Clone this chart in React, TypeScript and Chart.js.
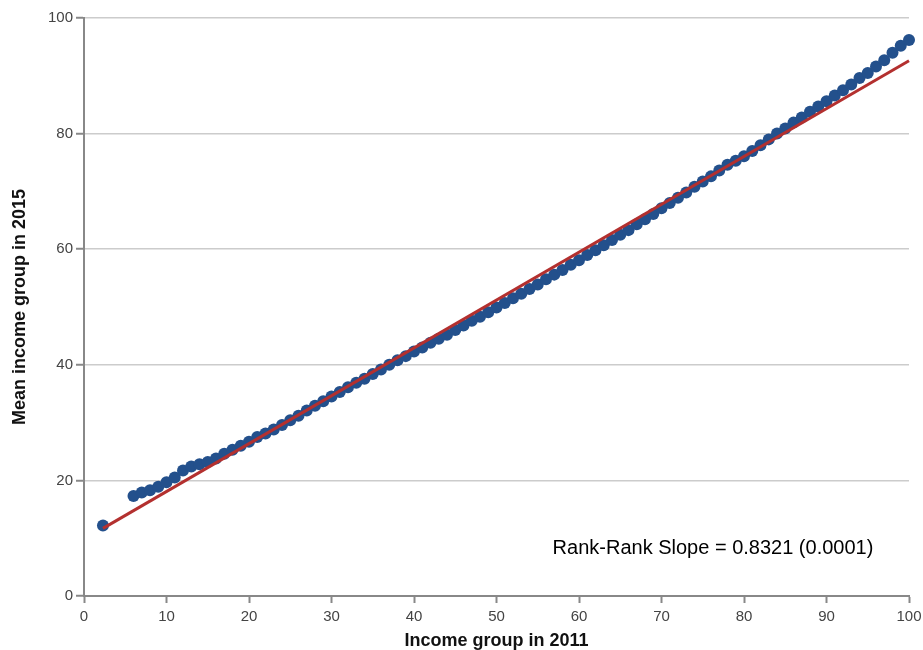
import React, { useEffect, useRef } from "react";
import { Chart, registerables } from "chart.js";

Chart.register(...registerables);

// Income group (percentile rank) in 2011
const incomeGroup2011 = [
  2.3, 6, 7, 8, 9, 10, 11, 12, 13, 14, 15, 16, 17, 18, 19, 20, 21, 22, 23, 24, 25,
  26, 27, 28, 29, 30, 31, 32, 33, 34, 35, 36, 37, 38, 39, 40, 41, 42, 43, 44, 45,
  46, 47, 48, 49, 50, 51, 52, 53, 54, 55, 56, 57, 58, 59, 60, 61, 62, 63, 64, 65,
  66, 67, 68, 69, 70, 71, 72, 73, 74, 75, 76, 77, 78, 79, 80, 81, 82, 83, 84, 85,
  86, 87, 88, 89, 90, 91, 92, 93, 94, 95, 96, 97, 98, 99, 100,
];

// Mean income group in 2015
const meanIncomeGroup2015 = [
  12.2, 17.3, 17.9, 18.3, 18.9, 19.7, 20.5, 21.7, 22.4, 22.8, 23.2, 23.8, 24.6, 25.3, 26.0, 26.7, 27.5, 28.1, 28.8, 29.6, 30.4,
  31.2, 32.1, 32.9, 33.7, 34.5, 35.3, 36.1, 36.9, 37.6, 38.4, 39.2, 40.0, 40.8, 41.5, 42.3, 43.0, 43.8, 44.5, 45.2, 46.0,
  46.8, 47.6, 48.3, 49.1, 49.9, 50.7, 51.5, 52.3, 53.1, 53.9, 54.8, 55.6, 56.4, 57.3, 58.1, 59.0, 59.8, 60.7, 61.6, 62.5,
  63.3, 64.3, 65.2, 66.1, 67.1, 68.0, 68.9, 69.8, 70.8, 71.7, 72.6, 73.6, 74.6, 75.3, 76.1, 77.0, 78.0, 79.0, 80.0, 80.9,
  81.9, 82.8, 83.8, 84.7, 85.6, 86.6, 87.5, 88.5, 89.6, 90.5, 91.6, 92.7, 94.0, 95.2, 96.2,
];

// Fitted rank-rank regression line endpoints
const fitX = [2.3, 100];
const fitY = [11.7, 92.6];

const slopeLabel = "Rank-Rank Slope = 0.8321 (0.0001)";
const slopeLabelAt = { x: 56.8, y: 8.3 };

const xTitle = "Income group in 2011";
const yTitle = "Mean income group in 2015";
const xTickStep = 10;
const yTickStep = 20;

const annotationPlugin = {
  id: "slopeAnnotation",
  afterDatasetsDraw(chart: any) {
    const { ctx, scales } = chart;
    const px = scales.x.getPixelForValue(slopeLabelAt.x);
    const py = scales.y.getPixelForValue(slopeLabelAt.y);
    ctx.save();
    ctx.font = "20px 'Liberation Sans', Arial, sans-serif";
    ctx.fillStyle = "#000";
    ctx.textAlign = "left";
    ctx.textBaseline = "middle";
    ctx.fillText(slopeLabel, px, py);
    ctx.restore();
  },
};

export default function App() {
  const canvasRef = useRef<HTMLCanvasElement | null>(null);

  useEffect(() => {
    if (!canvasRef.current) return;
    const points = incomeGroup2011.map((x, i) => ({ x, y: meanIncomeGroup2015[i] }));
    const fit = fitX.map((x, i) => ({ x, y: fitY[i] }));
    const tickFont = { family: "'Liberation Sans', Arial, sans-serif", size: 15 };
    const titleFont = { family: "'Liberation Sans', Arial, sans-serif", size: 18, weight: "bold" as const, lineHeight: 1 };
    const chart = new Chart(canvasRef.current, {
      type: "scatter",
      data: {
        datasets: [
          {
            label: "Fit",
            data: fit,
            showLine: true,
            borderColor: "#b3302f",
            borderWidth: 3,
            pointRadius: 0,
            pointHoverRadius: 0,
            fill: false,
            clip: false,
            order: 0,
          } as any,
          {
            label: "Mean income group",
            data: points,
            backgroundColor: "#23508c",
            borderColor: "#23508c",
            borderWidth: 0,
            pointRadius: 6,
            pointHoverRadius: 6,
            clip: false,
            order: 1,
          } as any,
        ],
      },
      options: {
        responsive: false,
        animation: false,
        layout: { padding: { top: 18, right: 14, left: 0, bottom: 0 } },
        plugins: {
          legend: { display: false },
          tooltip: { enabled: false },
        },
        events: [],
        scales: {
          x: {
            type: "linear",
            min: 0,
            max: 100,
            ticks: { stepSize: xTickStep, font: tickFont, color: "#444", padding: 5 },
            grid: { drawOnChartArea: false, drawTicks: true, tickLength: 7, tickColor: "#888", tickWidth: 2 },
            border: { color: "#888", width: 2 },
            title: { display: true, text: xTitle, font: titleFont, color: "#111", padding: { top: 0, bottom: 0 } },
            afterFit: (s: any) => {
              s.height = 54;
              s.paddingRight = 0;
              s.paddingLeft = 0;
            },
          },
          y: {
            type: "linear",
            min: 0,
            max: 100,
            ticks: { stepSize: yTickStep, font: tickFont, color: "#444", padding: 3 },
            grid: { color: "#cccccc", lineWidth: 1.5, tickLength: 8, tickColor: "#888", tickWidth: 2 },
            border: { color: "#888", width: 2 },
            title: { display: true, text: yTitle, font: titleFont, color: "#111", padding: { top: 11, bottom: 0 } },
            afterFit: (s: any) => {
              s.width = 84;
            },
          },
        },
      },
      plugins: [annotationPlugin],
    });
    return () => chart.destroy();
  }, []);

  return (
    <div style={{ position: "absolute", left: 0, top: 0, width: 923, height: 650, background: "#fff" }}>
      <canvas ref={canvasRef} width={923} height={650} style={{ display: "block" }} />
    </div>
  );
}
